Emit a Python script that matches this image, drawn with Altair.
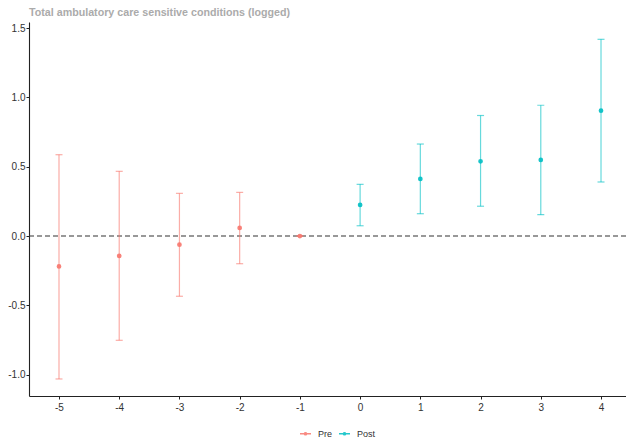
import altair as alt
import pandas as pd

periods = [-5, -4, -3, -2, -1, 0, 1, 2, 3, 4]
estimates = [-0.22, -0.144, -0.063, 0.058, 0.0, 0.224, 0.412, 0.539, 0.549, 0.905]
lower = [-1.032, -0.753, -0.435, -0.2, 0.0, 0.074, 0.161, 0.215, 0.154, 0.39]
upper = [0.587, 0.467, 0.308, 0.315, 0.0, 0.373, 0.664, 0.87, 0.944, 1.42]
groups = ["Pre", "Pre", "Pre", "Pre", "Pre", "Post", "Post", "Post", "Post", "Post"]
group_order = ["Pre", "Post"]
group_colors = ["#F8766D", "#00BFC4"]
y_ticks = [-1.0, -0.5, 0.0, 0.5, 1.0, 1.5]
title_text = "Total ambulatory care sensitive conditions (logged)"

df = pd.DataFrame({"t": periods, "est": estimates, "lo": lower, "hi": upper, "g": groups})
zero_df = pd.DataFrame({"z": [0.0]})

FONT = "Liberation Sans"
HYPHEN_EXPR = "replace(datum.label, '\u2212', '-')"

x_enc = alt.X(
    "t:Q",
    scale=alt.Scale(domain=[-5.498, 4.415], nice=False, zero=False),
    axis=alt.Axis(values=periods, title=None, grid=False, format="d", labelExpr=HYPHEN_EXPR),
)
y_scale = alt.Scale(domain=[-1.155, 1.545], nice=False, zero=False)
y_axis = alt.Axis(values=y_ticks, title=None, grid=False, format=".1f", labelExpr=HYPHEN_EXPR,
                  labelPadding=1)

legend = alt.Legend(
    title=None,
    orient="none",
    direction="horizontal",
    legendX=270,
    legendY=405,
    symbolType="M-1,0H1M-0.22,0A0.22,0.22 0 1,0 0.22,0A0.22,0.22 0 1,0 -0.22,0Z",
    symbolSize=121,
    symbolStrokeWidth=1.3,
    symbolOpacity=0.85,
    labelFontSize=9,
    labelFont=FONT,
    labelColor="#333333",
    labelOffset=6,
    columnPadding=3,
)

color_enc = alt.Color(
    "g:N",
    scale=alt.Scale(domain=group_order, range=group_colors),
    legend=legend,
)

base = alt.Chart(df)

bars = base.mark_errorbar(ticks={"size": 7}, thickness=1.2, opacity=0.6).encode(
    x=x_enc,
    y=alt.Y("lo:Q", scale=y_scale, axis=y_axis),
    y2="hi:Q",
    color=color_enc,
)

pts = base.mark_point(filled=False, size=5, strokeWidth=2.5, opacity=0.9).encode(
    x=x_enc,
    y=alt.Y("est:Q", scale=y_scale, axis=y_axis),
    color=color_enc,
)

zero = alt.Chart(zero_df).mark_rule(strokeDash=[5, 3], color="#333333", strokeWidth=1.1).encode(
    y=alt.Y("z:Q", scale=y_scale, axis=y_axis)
)

chart = (
    alt.layer(zero, bars, pts)
    .resolve_scale(y="shared")
    .properties(
        width=597,
        height=374,
        autosize=alt.AutoSizeParams(type="none"),
        padding={"left": 21, "top": 14, "right": 0, "bottom": 42},
        title=alt.TitleParams(
            title_text,
            anchor="start",
            frame="group",
            fontSize=10.7,
            fontWeight="bold",
            color="#ababab",
            font=FONT,
            offset=6,
            dy=3,
        ),
    )
    .configure_view(stroke=None)
    .configure_axis(
        domainColor="#222222",
        domainWidth=1.1,
        tickColor="#222222",
        tickSize=3,
        labelFont=FONT,
        labelFontSize=10,
        labelColor="#333333",
        labelPadding=3,
    )
)

chart.save("out.html", embed_options={"renderer": "svg", "actions": False})
